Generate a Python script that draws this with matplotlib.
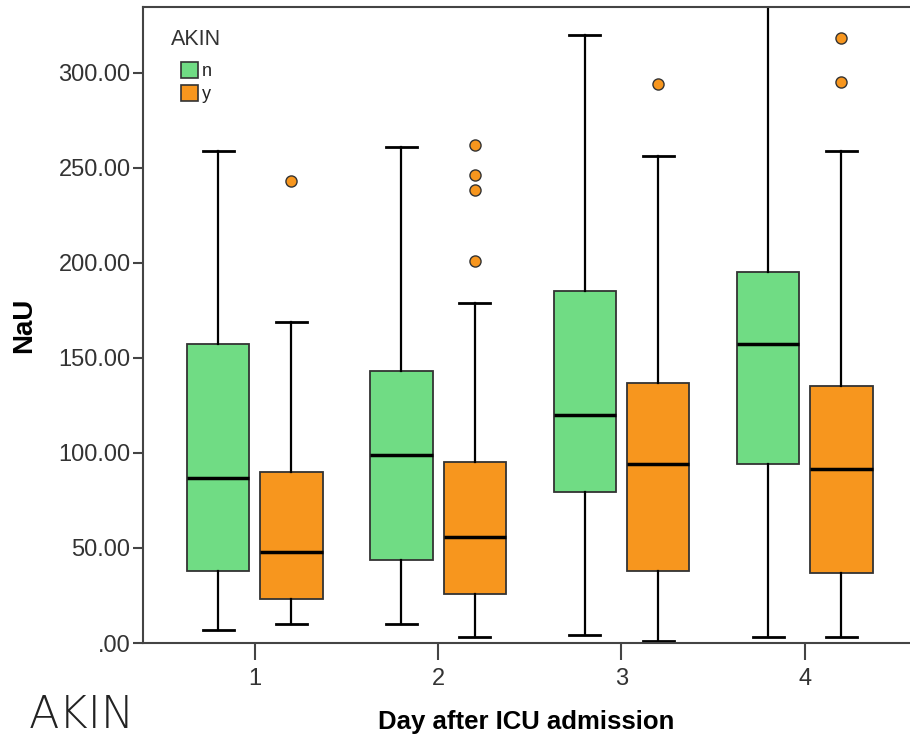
import matplotlib
matplotlib.use("Agg")
import matplotlib.pyplot as plt
from matplotlib.patches import Patch

days = [1, 2, 3, 4]
groups = ["n", "y"]
colors = {"n": "#70DC84", "y": "#F7961E"}

# five-number summaries per day: [low whisker, Q1, median, Q3, high whisker]
stats_n = [
    [7, 38, 87, 157, 259],
    [10, 43.5, 99, 143, 261],
    [4, 79.5, 120, 185, 320],
    [3, 94, 157, 195, 360],
]
stats_y = [
    [10, 23, 48, 90, 169],
    [3, 26, 56, 95, 179],
    [1, 38, 94, 137, 256],
    [3, 37, 91.5, 135, 259],
]
outliers_n = [[], [], [], []]
outliers_y = [[243], [201, 238, 246, 262], [294], [295, 318]]

yticks = [0, 50, 100, 150, 200, 250, 300]
ytick_labels = [".00", "50.00", "100.00", "150.00", "200.00", "250.00", "300.00"]

fig = plt.figure(figsize=(9.1, 7.38), dpi=100)
ax = fig.add_axes([143/910, 1 - 643/738, (910 - 143)/910, 636/738])

offset = 0.2
width = 0.34
edge = "#333333"

def make_stats(s, fl):
    return dict(whislo=s[0], q1=s[1], med=s[2], q3=s[3], whishi=s[4], fliers=fl)

for grp, sts, fls, off in [("n", stats_n, outliers_n, -offset), ("y", stats_y, outliers_y, offset)]:
    bstats = [make_stats(s, f) for s, f in zip(sts, fls)]
    pos = [d + off for d in days]
    ax.bxp(bstats, positions=pos, widths=width, capwidths=width/2, patch_artist=True,
           showfliers=True,
           boxprops=dict(facecolor=colors[grp], edgecolor=edge, linewidth=1.3),
           medianprops=dict(color="black", linewidth=2.5),
           whiskerprops=dict(color="black", linewidth=1.6),
           capprops=dict(color="black", linewidth=2),
           flierprops=dict(marker="o", markerfacecolor=colors[grp], markeredgecolor=edge,
                           markersize=8, markeredgewidth=1))

ax.set_xlim(0.39, 4.574)
ax.set_ylim(0, 334.5)
ax.set_xticks(days)
ax.set_xticklabels([str(d) for d in days])
ax.set_yticks(yticks)
ax.set_yticklabels(ytick_labels)

for sp in ["left", "bottom", "top"]:
    ax.spines[sp].set_color("#444444")
    ax.spines[sp].set_linewidth(1.5)
ax.spines["right"].set_visible(False)

ax.tick_params(axis="y", direction="out", length=7, width=1.5, color="#444444",
               labelsize=17, labelcolor="#333333", pad=2)
ax.tick_params(axis="x", direction="out", length=12, width=1.5, color="#444444",
               labelsize=17, labelcolor="#333333", pad=6)
for lab in ax.get_xticklabels() + ax.get_yticklabels():
    lab.set_family("Liberation Sans")

ax.set_ylabel("NaU", fontsize=20, fontweight="bold", family="Liberation Sans")
ax.yaxis.set_label_coords(-0.138, 0.5)
ax.set_xlabel("Day after ICU admission", fontsize=18.5, fontweight="bold", family="Liberation Sans")
ax.xaxis.set_label_coords(0.5, -0.106)

handles = [Patch(facecolor=colors[g], edgecolor=edge, linewidth=1.2, label=g) for g in groups]
leg = ax.legend(handles=handles, title="AKIN", loc="upper left",
                bbox_to_anchor=((162 - 143)/767, (643 - 20)/636),
                frameon=False, borderpad=0, handlelength=0.95, handleheight=0.95,
                handletextpad=0.2, labelspacing=0.28,
                prop=dict(family="Liberation Sans", size=13),
                title_fontproperties=dict(family="Liberation Sans", size=15.5))
leg._legend_box.sep = 8.7
leg.get_title().set_color("#333333")
for t in leg.get_texts():
    t.set_color("#222222")

fig.text(29/910, 1/738, "AKIN", fontsize=32, family="DejaVu Sans",
         fontweight="light", color="#222222", va="bottom", ha="left")

fig.savefig("out.png", dpi=100)
